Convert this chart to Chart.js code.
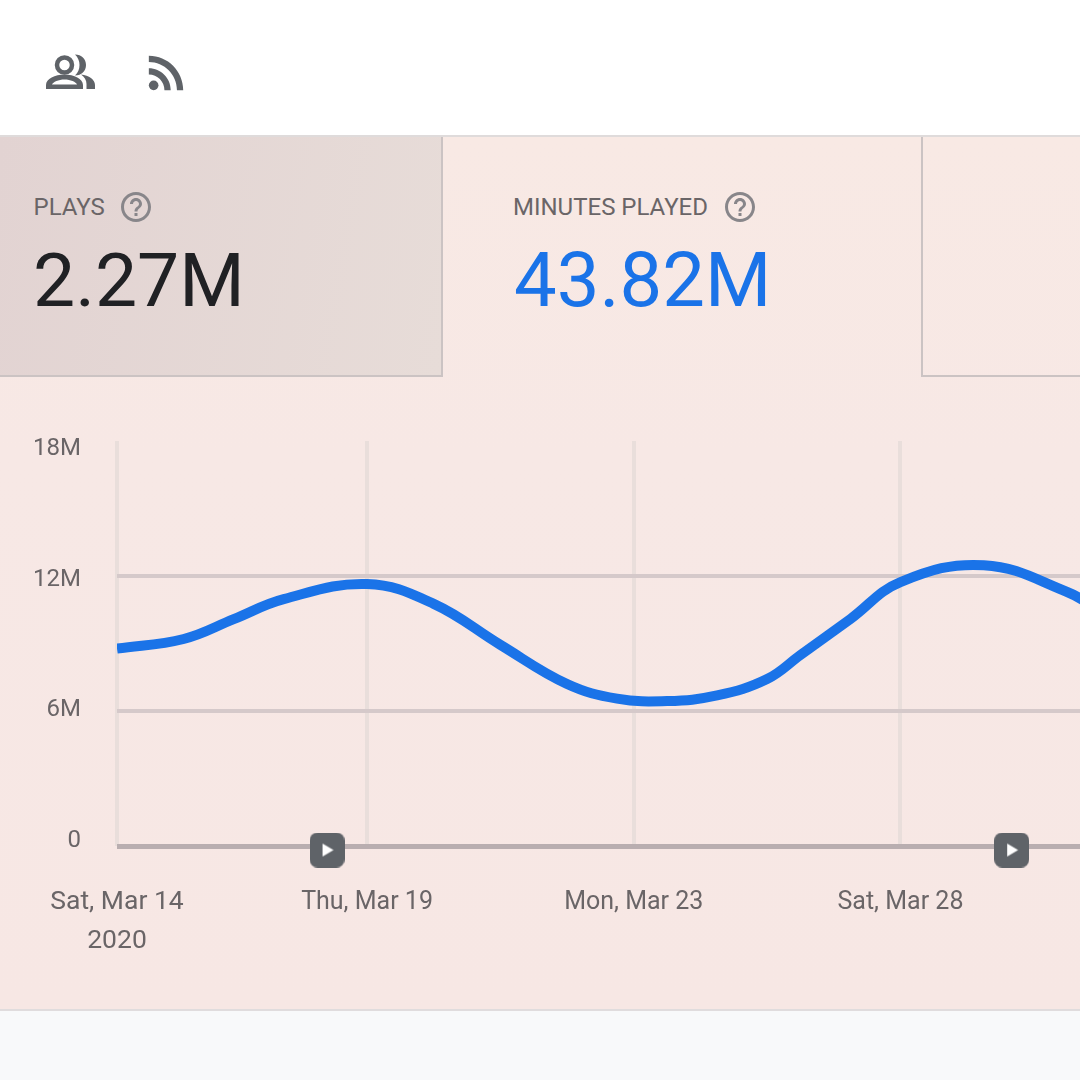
<!DOCTYPE html>
<html>
<head>
<meta charset="utf-8">
<script src="https://cdn.jsdelivr.net/npm/chart.js@4"></script>
<style>
  html, body { margin: 0; padding: 0; }
  body { width: 1080px; height: 1080px; position: relative; overflow: hidden; background: #fff; font-family: Roboto, sans-serif; }
  .kutu { position: absolute; box-sizing: border-box; }
  #panel { left: 0; top: 135px; width: 1080px; height: 876px; border-top: 2px solid #dfdbdb; border-bottom: 2px solid #e0dcdd;
           background: linear-gradient(180deg, #f8e9e4 0, #f7e8e5 320px, #f7e7e4 100%); }
  #alt { left: 0; top: 1011px; width: 1080px; height: 69px; background: #f8f9fa; }
  #kart-plays { left: 0; top: 137px; width: 443px; height: 240px; border-right: 2px solid #cbc3c3; border-bottom: 2px solid #cbc3c3;
                background: linear-gradient(100deg, #e2d3d2 0, #e7dcd8 100%); }
  #kart-bos { left: 921px; top: 137px; width: 159px; height: 240px; border-left: 2px solid #cbc3c3; border-bottom: 2px solid #cbc3c3; }
  .etiket { position: absolute; top: 193px; font-size: 24px; line-height: 28px; color: #6a6567; white-space: nowrap; }
  .deger { position: absolute; top: 235px; line-height: 90px; white-space: nowrap; }
  svg { position: absolute; }
  #grafik { position: absolute; left: 0; top: 376px; }
</style>
</head>
<body>
<div class="kutu" id="panel"></div>
<div class="kutu" id="alt"></div>
<div class="kutu" id="kart-plays"></div>
<div class="kutu" id="kart-bos"></div>

<svg style="left:40px;top:48px" width="60" height="46" viewBox="40 48 60 46">
  <circle cx="64.5" cy="65" r="7.5" fill="none" stroke="#5f6368" stroke-width="4.5"/>
  <path d="M75 54.5c6.5 0 11 4.5 11 10.5s-4.500 10.500-11 10.500c3-3 4.500-6.500 4.500-10.500s-1.500-7.500-4.500-10.500z" fill="#5f6368"/>
  <path fill-rule="evenodd" d="M46 89v-4c0-6 9-10.500 18.500-10.500S83 79 83 85v4zM52 84.500h25c-1-2.500-6.500-5-12.500-5s-11.500 2.500-12.500 5z" fill="#5f6368"/>
  <path d="M81 74.500c8 1 14 5 14 10.500v4h-8.500v-5c0-4-2-7-5.500-9.500z" fill="#5f6368"/>
</svg>
<svg style="left:140px;top:46px" width="53" height="53" viewBox="0 0 24 24" fill="#5f6368">
  <circle cx="6.18" cy="17.82" r="2.18"/>
  <path d="M4 4.440v2.830c7.030 0 12.730 5.700 12.730 12.730h2.830c0-8.590-6.970-15.560-15.560-15.560z"/>
  <path d="M4 10.100v2.830c3.900 0 7.070 3.170 7.070 7.070h2.830c0-5.470-4.430-9.900-9.900-9.900z"/>
</svg>

<div class="etiket" style="left:33.5px">PLAYS</div>
<svg style="left:118px;top:189px" width="36" height="36" viewBox="0 0 24 24" fill="#88868a">
  <path d="M11 18h2v-2h-2v2zm1-16C6.480 2 2 6.480 2 12s4.480 10 10 10 10-4.480 10-10S17.520 2 12 2zm0 18c-4.410 0-8-3.590-8-8s3.590-8 8-8 8 3.590 8 8-3.590 8-8 8zm0-14c-2.210 0-4 1.790-4 4h2c0-1.100.9-2 2-2s2 .9 2 2c0 2-3 1.750-3 5h2c0-2.250 3-2.500 3-5 0-2.210-1.790-4-4-4z"/>
</svg>
<div class="deger" style="left:33px;color:#202124;font-size:75px">2.27M</div>

<div class="etiket" style="left:513px">MINUTES PLAYED</div>
<svg style="left:722px;top:189px" width="36" height="36" viewBox="0 0 24 24" fill="#88868a">
  <path d="M11 18h2v-2h-2v2zm1-16C6.480 2 2 6.480 2 12s4.480 10 10 10 10-4.480 10-10S17.520 2 12 2zm0 18c-4.410 0-8-3.590-8-8s3.590-8 8-8 8 3.590 8 8-3.590 8-8 8zm0-14c-2.210 0-4 1.790-4 4h2c0-1.100.9-2 2-2s2 .9 2 2c0 2-3 1.750-3 5h2c0-2.250 3-2.500 3-5 0-2.210-1.790-4-4-4z"/>
</svg>
<div class="deger" style="left:514px;color:#1a73e8;font-size:76px">43.82M</div>

<canvas id="grafik" width="1080" height="634"></canvas>

<script>
// Veriler (milyon dakika)
const ornekler = [0, 4, 7, 10, 15, 19, 23, 27, 30, 33, 36, 39, 41, 44, 47, 52, 57, 59];
const dakikalar = [8.77, 9.2, 10.08, 10.97, 11.64, 10.76, 8.94, 7.2, 6.55, 6.44, 6.69, 7.42, 8.49, 10.09, 11.73, 12.48, 11.29, 10.44];

const xTikOrnekleri = [0, 15, 31, 47];
const xTikEtiketleri = [['Sat, Mar 14', '2020'], 'Thu, Mar 19', 'Mon, Mar 23', 'Sat, Mar 28'];
const yTikDegerleri = [0, 6, 12, 18];
const yTikEtiketleri = ['0', '6M', '12M', '18M'];

// Oynatma isaretleri
const isaretOrnekleri = [12.6, 53.67];
const isaretDegerleri = [-0.18, -0.18];

// Oynatma ikonu (kucuk canvas, pointStyle olarak)
function oynatmaIkonu() {
    const c = document.createElement('canvas');
    c.width = 35;
    c.height = 35;
    const g = c.getContext('2d');
    g.fillStyle = '#5f6368';
    g.beginPath();
    g.roundRect(0, 0, 35, 35, 8);
    g.fill();
    g.fillStyle = '#ffffff';
    g.beginPath();
    g.moveTo(13, 11);
    g.lineTo(24, 17.5);
    g.lineTo(13, 24);
    g.closePath();
    g.fill();
    return c;
}

new Chart(document.getElementById('grafik').getContext('2d'), {
    type: 'line',
    data: {
        datasets: [
            {
                data: ornekler.map((x, i) => ({ x: x, y: dakikalar[i] })),
                borderColor: '#1a73e8',
                borderWidth: 10,
                tension: 0.4,
                pointRadius: 0,
                fill: false
            },
            {
                data: isaretOrnekleri.map((x, i) => ({ x: x, y: isaretDegerleri[i] })),
                showLine: false,
                pointStyle: oynatmaIkonu(),
                pointRadius: 17,
                clip: false
            }
        ]
    },
    options: {
        responsive: false,
        animation: false,
        events: [],
        layout: { autoPadding: false, padding: { top: 65, left: 0, right: 0, bottom: 0 } },
        plugins: { legend: { display: false }, tooltip: { enabled: false } },
        scales: {
            x: {
                type: 'linear',
                min: 0,
                max: 57.77,
                afterBuildTicks: (s) => { s.ticks = xTikOrnekleri.map(v => ({ value: v })); },
                afterFit: (s) => { s.height = 164; },
                border: { display: false },
                grid: { color: '#e9dedb', lineWidth: 4, drawTicks: false },
                ticks: {
                    autoSkip: false,
                    maxRotation: 0,
                    padding: 37,
                    color: '#6a6567',
                    font: (ctx) => ({ family: 'Roboto', size: ctx.index === 0 ? 26.5 : 25, lineHeight: '39px' }),
                    callback: (v) => xTikEtiketleri[xTikOrnekleri.indexOf(v)]
                }
            },
            // Cizgiler icin asil eksen
            y: {
                position: 'left',
                min: 0,
                max: 18,
                afterBuildTicks: (s) => { s.ticks = yTikDegerleri.map(v => ({ value: v })); },
                afterFit: (s) => { s.width = 0; },
                border: { display: false },
                grid: {
                    drawTicks: false,
                    color: (ctx) => {
                        if (ctx.tick.value === 18) return 'rgba(0,0,0,0)';
                        return ctx.tick.value === 0 ? '#b9aeb0' : '#d5c9ca';
                    },
                    lineWidth: (ctx) => (ctx.tick.value === 0 ? 5 : 4)
                },
                ticks: { display: false }
            },
            // Etiketler cizgilerle tam hizali degil, o yuzden ayri eksen
            yEtiket: {
                position: 'left',
                min: -0.23,
                max: 18.37,
                afterBuildTicks: (s) => { s.ticks = yTikDegerleri.map(v => ({ value: v })); },
                afterFit: (s) => { s.width = 117; },
                border: { display: false },
                grid: { display: false, drawTicks: false },
                ticks: {
                    padding: 36,
                    color: '#6a6567',
                    font: { family: 'Roboto', size: 24 },
                    callback: (v) => yTikEtiketleri[yTikDegerleri.indexOf(v)]
                }
            }
        }
    }
});
</script>
</body>
</html>
